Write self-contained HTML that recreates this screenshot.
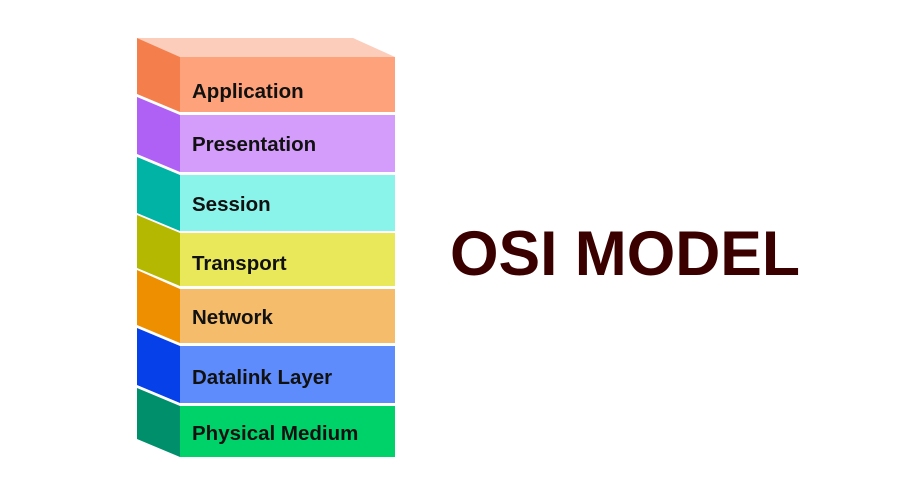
<!DOCTYPE html>
<html><head><style>body{margin:0;background:#fff}svg{display:block}</style></head><body>
<svg width="900" height="500" xmlns="http://www.w3.org/2000/svg" font-family="Liberation Sans, Arial, sans-serif">
<rect width="900" height="500" fill="#fff"/>
<polygon points="137,38 353,38 395,57 180,57" fill="#fccdbb"/>
<g font-weight="bold" font-size="20.5" fill="#111">
<polygon points="137,38 180,57 180,112 137,94" fill="#f47f4d"/>
<rect x="180" y="57" width="215" height="55" fill="#fda27a"/>
<text x="192" y="98">Application</text>

<polygon points="137,97 180,115 180,172 137,154" fill="#b061f5"/>
<rect x="180" y="115" width="215" height="57" fill="#d49dfc"/>
<text x="192" y="151">Presentation</text>

<polygon points="137,157 180,175 180,231 137,213" fill="#00b3a5"/>
<rect x="180" y="175" width="215" height="56" fill="#8af4ea"/>
<text x="192" y="211">Session</text>

<polygon points="137,215 180,233 180,286 137,268" fill="#b5b800"/>
<rect x="180" y="233" width="215" height="53" fill="#e8e85a"/>
<text x="192" y="270">Transport</text>

<polygon points="137,270 180,289 180,343 137,325" fill="#ee8f00"/>
<rect x="180" y="289" width="215" height="54" fill="#f5bd6b"/>
<text x="192" y="324">Network</text>

<polygon points="137,328 180,346 180,403 137,385" fill="#0540e8"/>
<rect x="180" y="346" width="215" height="57" fill="#5f8cfd"/>
<text x="192" y="384">Datalink Layer</text>

<polygon points="137,388 180,406 180,457 137,439" fill="#008f6b"/>
<rect x="180" y="406" width="215" height="51" fill="#00d26a"/>
<text x="192" y="440">Physical Medium</text>
</g>
<text x="450" y="275" font-size="63" font-weight="bold" fill="#3a0000" textLength="350" lengthAdjust="spacingAndGlyphs">OSI MODEL</text>
</svg>
</body></html>
